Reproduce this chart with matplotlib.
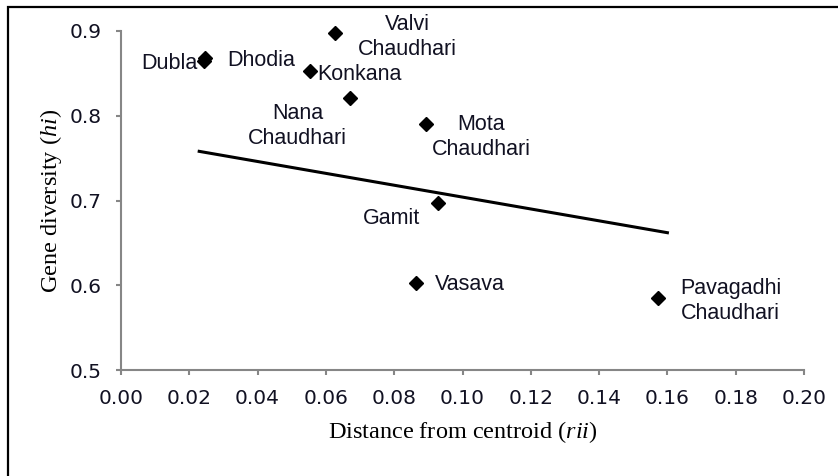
import matplotlib
matplotlib.use("Agg")
import matplotlib.pyplot as plt
from matplotlib.patches import Rectangle

plt.rcParams["mathtext.fontset"] = "custom"
plt.rcParams["mathtext.it"] = "Liberation Serif:italic"
plt.rcParams["mathtext.rm"] = "Liberation Serif"
plt.rcParams["mathtext.default"] = "it"

# Data
names = ["Dubla", "Dhodia", "Valvi\nChaudhari", "Konkana", "Nana\nChaudhari",
         "Mota\nChaudhari", "Gamit", "Vasava", "Pavagadhi\nChaudhari"]
dist = [0.0243, 0.0247, 0.0627, 0.0553, 0.0671, 0.0892, 0.0927, 0.0863, 0.1573]
gdiv = [0.865, 0.868, 0.898, 0.853, 0.821, 0.790, 0.697, 0.603, 0.585]
trend_x = [0.0229, 0.160]
trend_y = [0.758, 0.662]
xticks = [0.00, 0.02, 0.04, 0.06, 0.08, 0.10, 0.12, 0.14, 0.16, 0.18, 0.20]
yticks = [0.5, 0.6, 0.7, 0.8, 0.9]

# label offsets in points (dx, dy) and alignment
label_pos = {
    "Dubla": (-5, -2, "right"),
    "Dhodia": (16, -2, "left"),
    "Valvi\nChaudhari": (52, -3, "center"),
    "Konkana": (5, -3, "left"),
    "Nana\nChaudhari": (-38, -20, "center"),
    "Mota\nChaudhari": (40, -9, "center"),
    "Gamit": (-33, -11, "center"),
    "Vasava": (14, -1, "left"),
    "Pavagadhi\nChaudhari": (52, -2, "center"),
}

fig = plt.figure(figsize=(8.38, 4.76), dpi=100)
ax = fig.add_axes([121/838, 1-370/476, (804-121)/838, (370-31)/476])

ax.plot(trend_x, trend_y, color="black", lw=2.2, zorder=2)
ax.plot(dist, gdiv, linestyle="none", marker="D", color="black", markersize=7.5,
        zorder=3, clip_on=False)

for n, x, y in zip(names, dist, gdiv):
    dx, dy, ha = label_pos[n]
    ax.annotate(n, (x, y), xytext=(dx, dy), textcoords="offset points",
                ha=ha, va="center", fontsize=15.5, family="Liberation Sans",
                color="#111122", linespacing=1.25)

ax.set_xlim(0, 0.20)
ax.set_ylim(0.5, 0.9)
ax.set_xticks(xticks)
ax.set_xticklabels([f"{t:.2f}" for t in xticks])
ax.set_yticks(yticks)
ax.set_yticklabels([f"{t:.1f}" for t in yticks])
for s in ["top", "right"]:
    ax.spines[s].set_visible(False)
for s in ["left", "bottom"]:
    ax.spines[s].set_color("#868686")
    ax.spines[s].set_linewidth(1.5)
ax.tick_params(direction="out", length=3.6, width=1.5, color="#868686",
               labelsize=14.5, labelcolor="#111122", pad=10)
for lbl in ax.get_xticklabels() + ax.get_yticklabels():
    lbl.set_family("DejaVu Sans")

ax.set_xlabel(r"Distance from centroid ($rii$)", family="Liberation Serif",
              fontsize=17.5, labelpad=8, color="black")
ax.set_ylabel(r"Gene diversity ($hi$)", family="Liberation Serif",
              fontsize=17.5, labelpad=4, color="black")

fig.patches.append(Rectangle((8/838, -0.1), 1.1, 1 - 7/476 + 0.1, transform=fig.transFigure,
                             fill=False, edgecolor="black", lw=1.6))

fig.savefig("out.png", dpi=100)
